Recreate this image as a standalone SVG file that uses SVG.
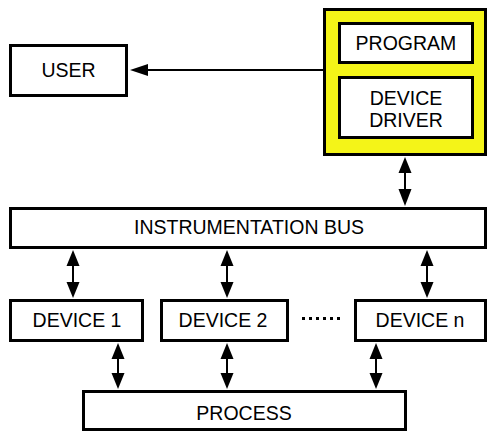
<svg xmlns="http://www.w3.org/2000/svg" width="488" height="432" viewBox="0 0 488 432">
<style>
.box{fill:#fff;stroke:#000;stroke-width:3}
.hl{fill:#f4f418;stroke:#000;stroke-width:3}
.lbl{font-family:"Liberation Sans",Arial,sans-serif;font-size:19.5px;fill:#000;text-anchor:middle}
.ln{stroke:#000;stroke-width:2;fill:none}
.ah{fill:#000}
</style>
<rect width="488" height="432" fill="#fff"/>
<g id="user"><rect class="box" x="10.5" y="45.5" width="116" height="50"/><text class="lbl" x="68.5" y="77">USER</text></g>
<g id="host"><rect class="hl" x="324.5" y="9.5" width="161" height="145"/></g>
<g id="program"><rect class="box" x="339.5" y="23.5" width="133" height="39"/><text class="lbl" x="406" y="50">PROGRAM</text></g>
<g id="driver"><rect class="box" x="339.5" y="77.5" width="133" height="60"/><text class="lbl" x="406" y="105">DEVICE</text><text class="lbl" x="406" y="127">DRIVER</text></g>
<g id="bus"><rect class="box" x="10.5" y="208.5" width="475" height="39"/><text class="lbl" x="249" y="234">INSTRUMENTATION BUS</text></g>
<g id="device1"><rect class="box" x="10.5" y="300.5" width="132" height="40"/><text class="lbl" x="77" y="327">DEVICE 1</text></g>
<g id="device2"><rect class="box" x="161.5" y="300.5" width="126" height="40"/><text class="lbl" x="223" y="327">DEVICE 2</text></g>
<g id="devicen"><rect class="box" x="355.5" y="300.5" width="130" height="40"/><text class="lbl" x="420" y="327">DEVICE n</text></g>
<g id="process"><rect class="box" x="83.5" y="391.5" width="322" height="38"/><text class="lbl" x="244" y="420">PROCESS</text></g>
<g id="connectors">
<line class="ln" x1="323" y1="70" x2="146" y2="70"/>
<polygon class="ah" points="130,70 148,64 148,76"/>
<line stroke="#000" stroke-width="3" stroke-dasharray="3,4" x1="302" y1="318.5" x2="341" y2="318.5"/>
<g id="a-driver-bus">
<line class="ln" x1="405" y1="170" x2="405" y2="192"/>
<polygon class="ah" points="405,157 398.5,173 411.5,173"/>
<polygon class="ah" points="405,206 398.5,189 411.5,189"/>
</g>
<g id="a-bus-d1">
<line class="ln" x1="73" y1="263" x2="73" y2="285"/>
<polygon class="ah" points="73,250 66.5,266 79.5,266"/>
<polygon class="ah" points="73,298 66.5,282 79.5,282"/>
</g>
<g id="a-bus-d2">
<line class="ln" x1="227" y1="263" x2="227" y2="285"/>
<polygon class="ah" points="227,250 220.5,266 233.5,266"/>
<polygon class="ah" points="227,298 220.5,282 233.5,282"/>
</g>
<g id="a-bus-dn">
<line class="ln" x1="427" y1="263" x2="427" y2="285"/>
<polygon class="ah" points="427,250 420.5,266 433.5,266"/>
<polygon class="ah" points="427,298 420.5,282 433.5,282"/>
</g>
<g id="a-d1-proc">
<line class="ln" x1="118" y1="356" x2="118" y2="376"/>
<polygon class="ah" points="118,343 111.5,359 124.5,359"/>
<polygon class="ah" points="118,389 111.5,373 124.5,373"/>
</g>
<g id="a-d2-proc">
<line class="ln" x1="227" y1="356" x2="227" y2="376"/>
<polygon class="ah" points="227,343 220.5,359 233.5,359"/>
<polygon class="ah" points="227,389 220.5,373 233.5,373"/>
</g>
<g id="a-dn-proc">
<line class="ln" x1="376" y1="356" x2="376" y2="376"/>
<polygon class="ah" points="376,343 369.5,359 382.5,359"/>
<polygon class="ah" points="376,389 369.5,373 382.5,373"/>
</g>
</g>
</svg>
